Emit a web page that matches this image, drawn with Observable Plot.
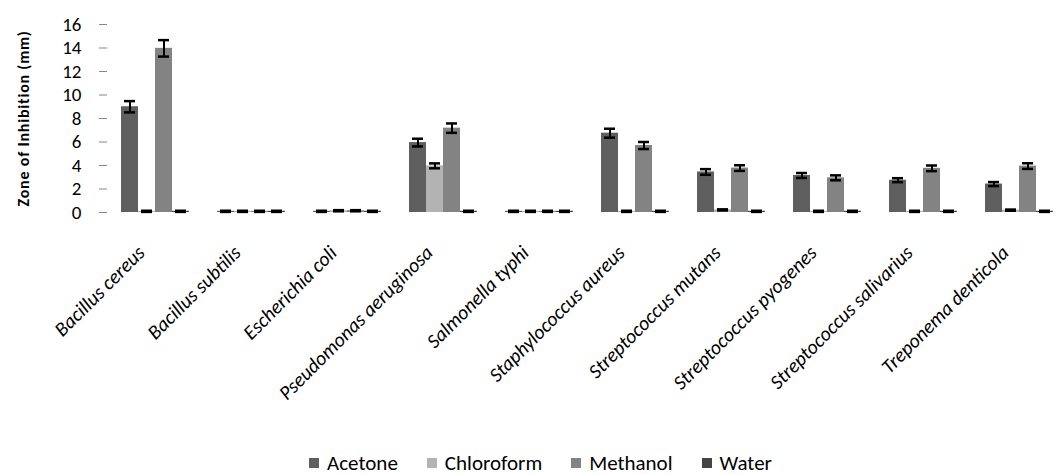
<!DOCTYPE html>
<html><head><meta charset="utf-8">
<script src="https://cdn.jsdelivr.net/npm/d3@7"></script>
<script src="https://cdn.jsdelivr.net/npm/@observablehq/plot@0.6"></script>
<style>
html,body{margin:0;padding:0;background:#fff;overflow:hidden;}
body{font-family:Carlito,Calibri,Lato,sans-serif;width:1059px;height:474px;}
#legend{display:flex;justify-content:center;align-items:center;height:24px;font-size:21px;color:#000;padding-left:51px;}
#legend .item{display:flex;align-items:center;margin-right:29px;}
#legend .sw{width:10px;height:10px;margin-right:8px;}
g[aria-label="y-axis label"] text{font-size:16px !important;font-weight:bold;letter-spacing:0.8px;}
g[aria-label="y-axis tick label"] text, g[aria-label="y-axis tick label"]{font-size:19px !important;}
g[aria-label="fx-axis tick label"] text, g[aria-label="fx-axis tick label"]{font-size:20px !important;font-style:italic;}
</style></head><body>
<div id="chart"></div>
<div id="legend"></div>
<script>
const species = ["Bacillus cereus","Bacillus subtilis","Escherichia coli","Pseudomonas aeruginosa","Salmonella typhi","Staphylococcus aureus","Streptococcus mutans","Streptococcus pyogenes","Streptococcus salivarius","Treponema denticola"];
const solvents = ["Acetone","Chloroform","Methanol","Water"];
const acetone    = [9.0, 0.1, 0.1, 5.95, 0.1, 6.75, 3.45, 3.15, 2.75, 2.42];
const chloroform = [0.1, 0.1, 0.15, 3.97, 0.1, 0.1, 0.22, 0.1, 0.1, 0.2];
const methanol   = [13.97, 0.1, 0.15, 7.18, 0.1, 5.7, 3.78, 2.95, 3.76, 3.95];
const water      = [0.1, 0.1, 0.1, 0.1, 0.1, 0.1, 0.1, 0.1, 0.1, 0.1];
const acetoneErr    = [0.48, 0.05, 0.05, 0.33, 0.05, 0.38, 0.24, 0.21, 0.17, 0.17];
const chloroformErr = [0.05, 0.05, 0.05, 0.21, 0.05, 0.05, 0.05, 0.05, 0.05, 0.05];
const methanolErr   = [0.7, 0.05, 0.05, 0.4, 0.05, 0.3, 0.24, 0.21, 0.24, 0.24];
const waterErr      = [0.05, 0.05, 0.05, 0.05, 0.05, 0.05, 0.05, 0.05, 0.05, 0.05];
const colors = ["#5f5f5f","#b3b3b3","#838383","#454545"];
const yTicks = [0,2,4,6,8,10,12,14,16];

const series = [acetone, chloroform, methanol, water];
const errs = [acetoneErr, chloroformErr, methanolErr, waterErr];
const rows = [];
species.forEach((sp, i) => solvents.forEach((s, j) => rows.push({species: sp, solvent: s, value: series[j][i], err: errs[j][i]})));

const axisGrey = "#868686";
function frameLines() {
  return Plot.dot(species, {fx: d => d, render(index, scales, values, dims) {
    const g = d3.create("svg:g");
    const y0 = scales.y(0), yTop = scales.y(16);
    const left = dims.marginLeft, right = dims.width - dims.marginRight;
    const sp = species[index[0]];
    g.append("line").attr("x1", left).attr("x2", right).attr("y1", y0).attr("y2", y0).attr("stroke", axisGrey).attr("stroke-width", 1.3);
    g.append("line").attr("x1", left).attr("x2", left).attr("y1", y0).attr("y2", y0 + 7).attr("stroke", axisGrey).attr("stroke-width", 1.3);
    g.append("line").attr("x1", right).attr("x2", right).attr("y1", y0).attr("y2", y0 + 7).attr("stroke", axisGrey).attr("stroke-width", 1.3);
    if (sp === species[0]) {
      g.append("line").attr("x1", left).attr("x2", left).attr("y1", yTop).attr("y2", y0).attr("stroke", axisGrey).attr("stroke-width", 1.3);
    }
    return g.node();
  }});
}

const chart = Plot.plot({
  width: 1059,
  height: 451,
  marginLeft: 102,
  marginRight: -12,
  marginTop: 24,
  marginBottom: 239,
  style: {fontFamily: "Carlito, Calibri, Lato, sans-serif", background: "#fff", overflow: "visible"},
  fx: {domain: species, padding: 0, label: null},
  x: {domain: solvents, paddingInner: 0, paddingOuter: 0.75, axis: null},
  y: {domain: [0, 16]},
  color: {domain: solvents, range: colors},
  marks: [
    Plot.barY(rows, {fx: "species", x: "solvent", y: "value", fill: "solvent"}),
    frameLines(),
    Plot.ruleX(rows, {fx: "species", x: "solvent", y1: d => d.value - d.err, y2: d => d.value + d.err, stroke: "#000", strokeWidth: 2}),
    Plot.tickY(rows, {fx: "species", x: "solvent", y: d => d.value + d.err, stroke: "#000", strokeWidth: 2.5, insetLeft: 3, insetRight: 3}),
    Plot.tickY(rows, {fx: "species", x: "solvent", y: d => d.value - d.err, stroke: "#000", strokeWidth: 2.5, insetLeft: 3, insetRight: 3}),
    Plot.axisY({ticks: yTicks, tickSize: 8, tickPadding: 18, fontSize: 19, stroke: axisGrey, label: "Zone of Inhibition (mm)", labelAnchor: "center", labelArrow: "none", labelOffset: 90, color: "#000"}),
    Plot.axisFx({anchor: "bottom", tickSize: 0, tickPadding: 37, dx: -14, tickRotate: -45, fontSize: 20, fontStyle: "italic", label: null})
  ]
});
document.getElementById("chart").appendChild(chart);

const leg = document.getElementById("legend");
solvents.forEach((s, j) => {
  const it = document.createElement("div"); it.className = "item";
  const sw = document.createElement("span"); sw.className = "sw"; sw.style.background = colors[j];
  const tx = document.createElement("span"); tx.textContent = s;
  it.appendChild(sw); it.appendChild(tx); leg.appendChild(it);
});
</script>
</body></html>
